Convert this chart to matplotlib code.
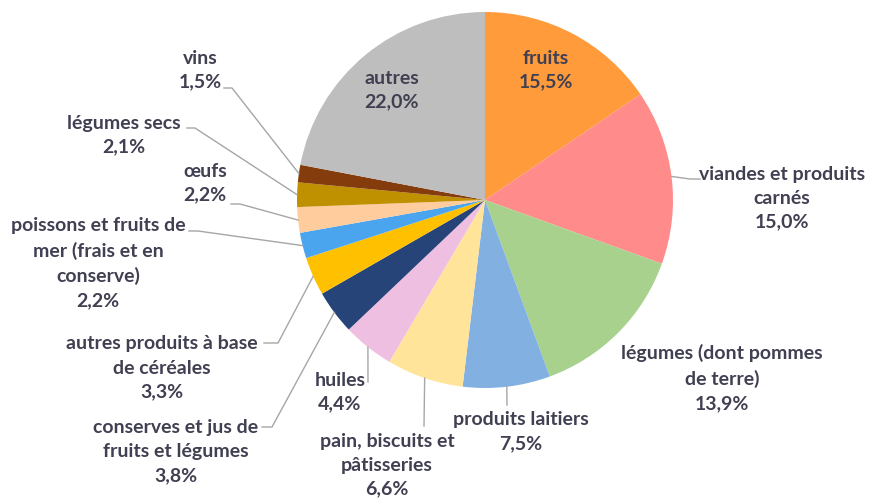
import matplotlib.pyplot as plt
import numpy as np

# data, clockwise from 12 o'clock
categories = ['fruits', 'viandes et produits\ncarnés', 'légumes (dont pommes\nde terre)',
              'produits laitiers', 'pain, biscuits et\npâtisseries', 'huiles',
              'conserves et jus de\nfruits et légumes', 'autres produits à base\nde céréales',
              'poissons et fruits de\nmer (frais et en\nconserve)', 'œufs', 'légumes secs',
              'vins', 'autres']
shares = [15.5, 15.0, 13.9, 7.5, 6.6, 4.4, 3.8, 3.3, 2.2, 2.2, 2.1, 1.5, 22.0]
pct_labels = ['15,5%', '15,0%', '13,9%', '7,5%', '6,6%', '4,4%', '3,8%', '3,3%',
              '2,2%', '2,2%', '2,1%', '1,5%', '22,0%']

colors = ['#FF9B3B', '#FF8C8A', '#A9D18E', '#82B0E0', '#FFE49A', '#EFBFE1',
          '#264478', '#FFC000', '#4BA5EE', '#FFCC9E', '#BF9000', '#843C0C', '#BEBEBE']

# layout in pixels (x from left, y from top)
W, H = 870, 498
cx, cy, R = 485, 200, 188
label_pos = [(546, 70), (782, 198), (722, 378), (521, 432), (387, 465), (340, 392),
             (176, 452), (162, 368), (98, 263), (205, 183), (124, 135), (200, 70), (392, 90)]
# leader line: elbow point and end point (None = no leader)
leaders = [None, [(690, 179), (700, 179)], None, [(507, 405)], [(424, 426)], [(368, 382)],
           [(272, 427), (262, 427)], [(278, 343), (264, 343)], [(198, 231), (189, 231)],
           [(240, 204), (231, 204)], [(195, 128), (187, 128)], [(232, 88), (224, 88)], None]

fig = plt.figure(figsize=(W / 100, H / 100), dpi=100)
ax = fig.add_axes([0, 0, 1, 1])

wedges, _ = ax.pie(shares, colors=colors, startangle=90, counterclock=False,
                   center=(cx, H - cy), radius=R, frame=True,
                   wedgeprops=dict(linewidth=0))
ax.set_xlim(0, W)
ax.set_ylim(0, H)
ax.set_aspect('equal')
ax.axis('off')

txt_color = '#404052'
for i, w in enumerate(wedges):
    lx, ly = label_pos[i]
    ax.text(lx, H - ly, categories[i] + '\n' + pct_labels[i], ha='center', va='center',
            multialignment='center', fontsize=14, fontweight='bold', color=txt_color,
            family='Lato', linespacing=1.5)
    if leaders[i] is not None:
        mid = np.deg2rad((w.theta1 + w.theta2) / 2)
        xs = [cx + R * np.cos(mid)] + [p[0] for p in leaders[i]]
        ys = [H - cy + R * np.sin(mid)] + [H - p[1] for p in leaders[i]]
        ax.plot(xs, ys, color='#A6A6A6', linewidth=1.0)

fig.savefig('out.png', dpi=100)
